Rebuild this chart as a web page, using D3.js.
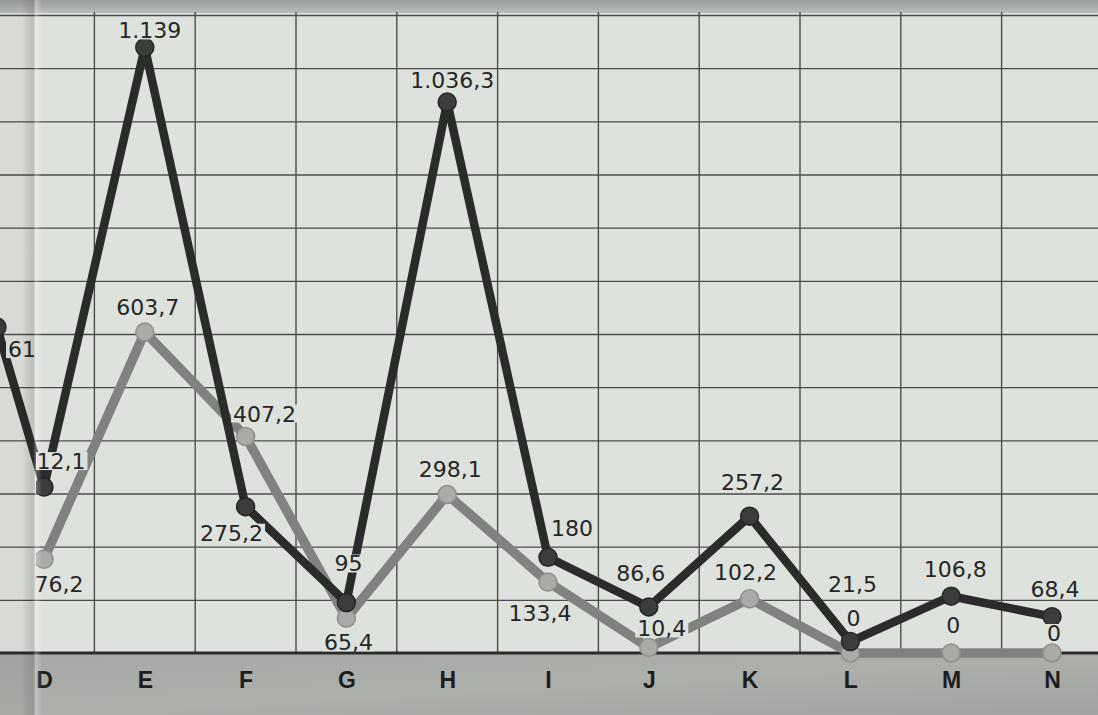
<!DOCTYPE html>
<html>
<head>
<meta charset="utf-8">
<script src="https://cdn.jsdelivr.net/npm/d3@7/dist/d3.min.js"></script>
<style>
  html, body { margin: 0; padding: 0; background: #dee2dc; }
  svg { display: block; }
</style>
</head>
<body>
<svg id="chart" width="1098" height="715"></svg>
<script>
// categories along the bottom; C sits inside the page fold on the left
const categories = ['C', 'D', 'E', 'F', 'G', 'H', 'I', 'J', 'K', 'L', 'M', 'N'];
const darkValues = [613, 312.1, 1139, 275.2, 95, 1036.3, 180, 86.6, 257.2, 21.5, 106.8, 68.4];
const lightValues = [null, 176.2, 603.7, 407.2, 65.4, 298.1, 133.4, 10.4, 102.2, 0, 0, 0];
const yTicks = d3.range(0, 1201, 100);

// label placement (dx, dy of label centre from its point)
const darkLabelPos = [[32, 22], [10, -26], [5, -17], [-14, 26], [2, -39], [5, -22],
  [24, -29], [-8, -34], [3, -34], [2, -58], [4, -27], [3, -28]];
const lightLabelPos = [null, [8, 25], [3, -25], [19, -23], [2, 24], [3, -26],
  [-8, 31], [13, -19], [-4, -27], [3, -35], [2, -28], [2, -20]];

const W = 1098, H = 715;
const PAPER = '#dee2dc';
const BASE_Y = 653, TOP_Y = 15;
const FOLD_X = 36;

const svg = d3.select('#chart');

// number format: 1.036,3
const locale = d3.formatLocale({decimal: ',', thousands: '.', grouping: [3], currency: ['', '']});
const fmtInt = locale.format(',');
const fmtDec = locale.format(',.1f');
function fmt(v) { return Number.isInteger(v) ? fmtInt(v) : fmtDec(v); }

// polylinear x: C is squeezed into the fold, D..N evenly spaced
const x = d3.scaleLinear().domain([0, 1, categories.length - 1]).range([-3, 44, 1052]);
const y = d3.scaleLinear().domain([0, 1200]).range([BASE_Y, TOP_Y]);

const defs = svg.append('defs');
defs.append('clipPath').attr('id', 'clip-left')
  .append('rect').attr('x', 0).attr('y', 0).attr('width', FOLD_X - 1).attr('height', H);
defs.append('clipPath').attr('id', 'clip-right')
  .append('rect').attr('x', FOLD_X).attr('y', 0).attr('width', W - FOLD_X).attr('height', H);

const topGrad = defs.append('linearGradient').attr('id', 'top-grad')
  .attr('x1', 0).attr('y1', 0).attr('x2', 0).attr('y2', 1);
topGrad.append('stop').attr('offset', '0%').attr('stop-color', '#9a9e9a');
topGrad.append('stop').attr('offset', '100%').attr('stop-color', '#b9bdb8');

const botGrad = defs.append('linearGradient').attr('id', 'bot-grad')
  .attr('x1', 0).attr('y1', 0).attr('x2', 1).attr('y2', 1);
botGrad.append('stop').attr('offset', '0%').attr('stop-color', '#a5a8a4');
botGrad.append('stop').attr('offset', '50%').attr('stop-color', '#acafaa');
botGrad.append('stop').attr('offset', '100%').attr('stop-color', '#a0a39f');

const foldGrad = defs.append('linearGradient').attr('id', 'fold-grad')
  .attr('x1', 0).attr('y1', 0).attr('x2', 1).attr('y2', 0);
foldGrad.append('stop').attr('offset', '0%').attr('stop-color', '#000').attr('stop-opacity', 0);
foldGrad.append('stop').attr('offset', '55%').attr('stop-color', '#3c3c3c').attr('stop-opacity', 0.16);
foldGrad.append('stop').attr('offset', '68%').attr('stop-color', '#ffffff').attr('stop-opacity', 0.3);
foldGrad.append('stop').attr('offset', '100%').attr('stop-color', '#ffffff').attr('stop-opacity', 0);

// paper, top edge, bottom band
svg.append('rect').attr('width', W).attr('height', H).attr('fill', PAPER);
svg.append('rect').attr('width', W).attr('height', 13).attr('fill', 'url(#top-grad)');
svg.append('rect').attr('y', BASE_Y).attr('width', W).attr('height', H - BASE_Y)
  .attr('fill', 'url(#bot-grad)');

// horizontal grid
const grid = svg.append('g').attr('class', 'grid');
grid.append('g')
  .call(d3.axisRight(y).tickValues(yTicks.slice(1)).tickSize(W).tickFormat(''))
  .call(g => g.select('.domain').remove())
  .call(g => g.selectAll('line').attr('stroke', '#4b4d4b').attr('stroke-width', 1.4));

// vertical grid between categories
grid.selectAll('line.v')
  .data(d3.range(1.5, categories.length - 1, 1))
  .join('line')
  .attr('class', 'v')
  .attr('x1', d => x(d)).attr('x2', d => x(d))
  .attr('y1', 12).attr('y2', BASE_Y)
  .attr('stroke', '#4b4d4b').attr('stroke-width', 1.4);

// baseline
svg.append('line')
  .attr('x1', 0).attr('x2', W).attr('y1', y(0)).attr('y2', y(0))
  .attr('stroke', '#2a2b2a').attr('stroke-width', 3);

// bottom category letters
svg.append('g')
  .attr('transform', 'translate(0,' + BASE_Y + ')')
  .call(d3.axisBottom(x).tickValues(d3.range(1, categories.length)).tickSize(0)
    .tickFormat(i => categories[i]))
  .call(g => g.select('.domain').remove())
  .call(g => g.selectAll('text')
    .attr('y', 35).attr('dy', 0)
    .attr('fill', '#1c1d1c')
    .attr('font-family', 'Liberation Sans, Arial, sans-serif')
    .attr('font-weight', 'bold')
    .attr('font-size', 23));

function lineFor(values) {
  return d3.line()
    .defined(d => d != null)
    .x((d, i) => x(i))
    .y(d => y(d))(values);
}

const series = [
  {values: lightValues, pos: lightLabelPos, line: '#808280', lw: 9.5, fill: '#a9aba7', stroke: '#8e908d', r: 9},
  {values: darkValues, pos: darkLabelPos, line: '#2a2b2a', lw: 8.5, fill: '#3b3d3b', stroke: '#262726', r: 9}
];

// lines first (light under dark)
series.forEach(s => {
  svg.append('path')
    .attr('d', lineFor(s.values))
    .attr('fill', 'none')
    .attr('stroke', s.line)
    .attr('stroke-width', s.lw)
    .attr('stroke-linejoin', 'round');
});

// the page fold hides content between the two clip regions
const leftG = svg.append('g').attr('clip-path', 'url(#clip-left)');
const rightG = svg.append('g').attr('clip-path', 'url(#clip-right)');

function sideOf(i) { return i === 0 ? leftG : rightG; }

series.forEach(s => {
  s.values.forEach((v, i) => {
    if(v == null) return;
    sideOf(i).append('circle')
      .attr('cx', x(i)).attr('cy', y(v)).attr('r', s.r)
      .attr('fill', s.fill).attr('stroke', s.stroke).attr('stroke-width', 1.5);
  });
});

// value labels with paper-coloured boxes
series.forEach(s => {
  s.values.forEach((v, i) => {
    if(v == null || !s.pos[i]) return;
    const cx = x(i) + s.pos[i][0];
    const cy = y(v) + s.pos[i][1];
    const g = sideOf(i).append('g');
    const box = g.append('rect').attr('fill', PAPER);
    const t = g.append('text')
      .attr('x', cx).attr('y', cy + 8)
      .attr('text-anchor', 'middle')
      .attr('font-family', 'DejaVu Sans, sans-serif')
      .attr('font-size', 22)
      .attr('fill', '#252625')
      .text(fmt(v));
    const w = t.node().getComputedTextLength();
    box.attr('x', cx - w / 2 - 2).attr('y', cy - 9).attr('width', w + 4).attr('height', 18);
  });
});

// fold shading
svg.append('rect')
  .attr('x', 22).attr('y', 0).attr('width', 20).attr('height', H)
  .attr('fill', 'url(#fold-grad)');
svg.append('rect')
  .attr('x', 0).attr('y', 0).attr('width', FOLD_X - 1).attr('height', H)
  .attr('fill', '#000').attr('opacity', 0.03);
</script>
</body>
</html>
